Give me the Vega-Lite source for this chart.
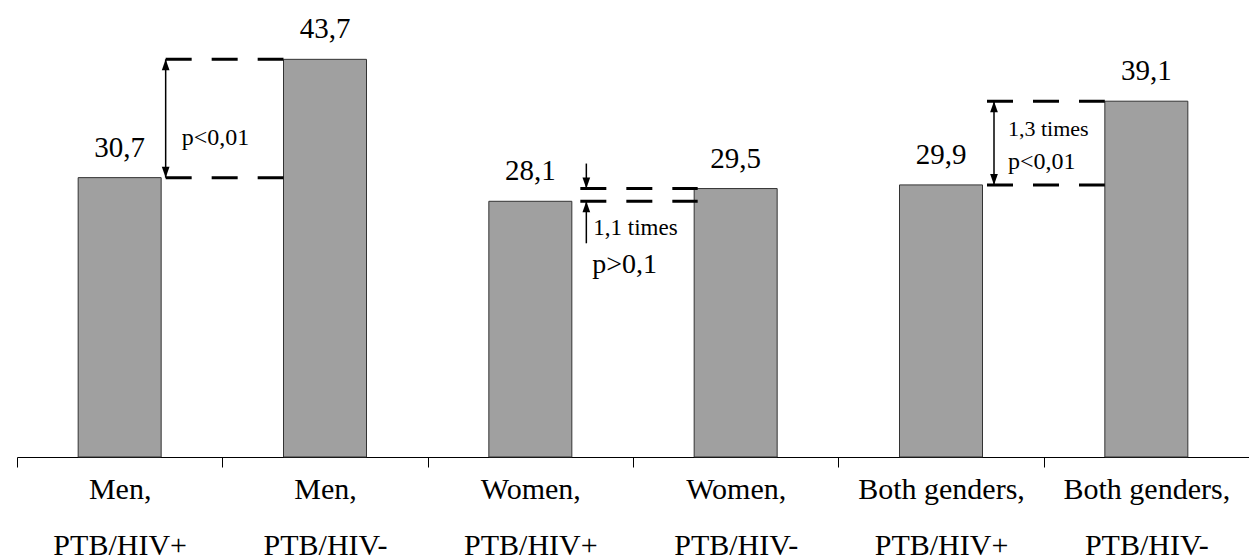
{
  "$schema": "https://vega.github.io/schema/vega-lite/v6.json",
  "width": 1232,
  "height": 455,
  "autosize": {"type": "none"},
  "padding": {"left": 17, "top": 2, "right": 0, "bottom": 103},
  "config": {
    "view": {"stroke": null},
    "locale": {"number": {"decimal": ",", "thousands": " ", "grouping": [3], "currency": ["", ""]}},
    "text": {"font": "Liberation Serif", "color": "black"},
    "axisX": {
      "title": null, "labelAngle": 0, "labelFont": "Liberation Serif", "labelFontSize": 30,
      "labelColor": "black", "labelLineHeight": 56, "labelPadding": 7, "tickBand": "extent",
      "tickSize": 10, "tickColor": "black", "domainColor": "black", "tickWidth": 1, "domainWidth": 1,
      "labelLimit": 400, "labelOverlap": false, "grid": false
    }
  },
  "datasets": {
    "bars": [
      {"category": "Men, PTB/HIV+", "value": 30.7},
      {"category": "Men, PTB/HIV-", "value": 43.7},
      {"category": "Women, PTB/HIV+", "value": 28.1},
      {"category": "Women, PTB/HIV-", "value": 29.5},
      {"category": "Both genders, PTB/HIV+", "value": 29.9},
      {"category": "Both genders, PTB/HIV-", "value": 39.1}
    ],
    "pairs": [
      {"pair": "Men", "from": "Men, PTB/HIV+", "to": "Men, PTB/HIV-", "low": 30.7, "high": 43.7, "ratio": "", "p": "p<0,01"},
      {"pair": "Women", "from": "Women, PTB/HIV+", "to": "Women, PTB/HIV-", "low": 28.1, "high": 29.5, "ratio": "1,1 times", "p": "p>0,1"},
      {"pair": "Both", "from": "Both genders, PTB/HIV+", "to": "Both genders, PTB/HIV-", "low": 29.9, "high": 39.1, "ratio": "1,3 times", "p": "p<0,01"}
    ]
  },
  "layer": [
    {
      "data": {"name": "bars"},
      "mark": {"type": "bar", "width": 83, "fill": "#a0a0a0", "stroke": "#333333", "strokeWidth": 1},
      "encoding": {
        "x": {
          "field": "category", "type": "nominal", "title": null,
          "scale": {"domain": ["Men, PTB/HIV+", "Men, PTB/HIV-", "Women, PTB/HIV+", "Women, PTB/HIV-", "Both genders, PTB/HIV+", "Both genders, PTB/HIV-"], "paddingInner": 0, "paddingOuter": 0},
          "axis": {
            "title": null,
            "labelExpr": "datum.label ? [split(datum.label, ', ')[0] + ',', split(datum.label, ', ')[1]] : ''"
          }
        },
        "y": {"field": "value", "type": "quantitative", "scale": {"domain": [0, 50], "nice": false}, "axis": null}
      }
    },
    {
      "data": {"name": "bars"},
      "mark": {"type": "text", "dy": -21, "baseline": "alphabetic", "fontSize": 29, "font": "Liberation Serif"},
      "encoding": {
        "x": {"field": "category", "type": "nominal", "title": null},
        "y": {"field": "value", "type": "quantitative", "axis": null},
        "text": {"field": "value", "type": "quantitative", "format": ".1f"}
      }
    },
    {
      "data": {"name": "pairs"},
      "transform": [{"filter": "datum.pair !== 'Women'"}, {"fold": ["low", "high"], "as": ["which", "level"]}],
      "mark": {"type": "rule", "strokeDash": [26, 20], "strokeWidth": 3, "stroke": "black", "xOffset": 46, "x2Offset": -41.5},
      "encoding": {
        "x": {"field": "from", "type": "nominal", "title": null},
        "x2": {"field": "to"},
        "y": {"field": "level", "type": "quantitative", "axis": null}
      }
    },
    {
      "data": {"name": "pairs"},
      "transform": [{"filter": "datum.pair === 'Women'"}, {"fold": ["low", "high"], "as": ["which", "level"]}],
      "mark": {"type": "rule", "strokeDash": [26, 20], "strokeWidth": 3, "stroke": "black", "xOffset": 50, "x2Offset": -38},
      "encoding": {
        "x": {"field": "from", "type": "nominal", "title": null},
        "x2": {"field": "to"},
        "y": {"field": "level", "type": "quantitative", "axis": null}
      }
    },
    {
      "data": {"name": "pairs"},
      "transform": [{"filter": "datum.pair === 'Men'"}],
      "mark": {"type": "rule", "xOffset": 46, "strokeWidth": 1.5, "stroke": "black"},
      "encoding": {
        "x": {"field": "from", "type": "nominal", "title": null},
        "y": {"field": "low", "type": "quantitative", "axis": null},
        "y2": {"field": "high"}
      }
    },
    {
      "data": {"name": "pairs"},
      "transform": [{"filter": "datum.pair === 'Men'"}],
      "mark": {"type": "point", "shape": "M0,0L-0.7,2L0.7,2Z", "size": 121, "filled": true, "color": "black", "strokeWidth": 0, "opacity": 1, "xOffset": 46},
      "encoding": {
        "x": {"field": "from", "type": "nominal", "title": null},
        "y": {"field": "high", "type": "quantitative", "axis": null}
      }
    },
    {
      "data": {"name": "pairs"},
      "transform": [{"filter": "datum.pair === 'Men'"}],
      "mark": {"type": "point", "shape": "M0,0L-0.7,-2L0.7,-2Z", "size": 121, "filled": true, "color": "black", "strokeWidth": 0, "opacity": 1, "xOffset": 46},
      "encoding": {
        "x": {"field": "from", "type": "nominal", "title": null},
        "y": {"field": "low", "type": "quantitative", "axis": null}
      }
    },
    {
      "data": {"name": "pairs"},
      "transform": [{"filter": "datum.pair === 'Both'"}],
      "mark": {"type": "rule", "xOffset": 53, "strokeWidth": 1.5, "stroke": "black"},
      "encoding": {
        "x": {"field": "from", "type": "nominal", "title": null},
        "y": {"field": "low", "type": "quantitative", "axis": null},
        "y2": {"field": "high"}
      }
    },
    {
      "data": {"name": "pairs"},
      "transform": [{"filter": "datum.pair === 'Both'"}],
      "mark": {"type": "point", "shape": "M0,0L-0.7,2L0.7,2Z", "size": 121, "filled": true, "color": "black", "strokeWidth": 0, "opacity": 1, "xOffset": 53},
      "encoding": {
        "x": {"field": "from", "type": "nominal", "title": null},
        "y": {"field": "high", "type": "quantitative", "axis": null}
      }
    },
    {
      "data": {"name": "pairs"},
      "transform": [{"filter": "datum.pair === 'Both'"}],
      "mark": {"type": "point", "shape": "M0,0L-0.7,-2L0.7,-2Z", "size": 121, "filled": true, "color": "black", "strokeWidth": 0, "opacity": 1, "xOffset": 53},
      "encoding": {
        "x": {"field": "from", "type": "nominal", "title": null},
        "y": {"field": "low", "type": "quantitative", "axis": null}
      }
    },
    {
      "data": {"name": "pairs"},
      "transform": [{"filter": "datum.pair === 'Women'"}],
      "mark": {"type": "rule", "xOffset": 56, "yOffset": -25, "strokeWidth": 1.5, "stroke": "black"},
      "encoding": {
        "x": {"field": "from", "type": "nominal", "title": null},
        "y": {"field": "high", "type": "quantitative", "axis": null},
        "y2": {"field": "high"}
      }
    },
    {
      "data": {"name": "pairs"},
      "transform": [{"filter": "datum.pair === 'Women'"}],
      "mark": {"type": "point", "shape": "M0,0L-0.7,-2L0.7,-2Z", "size": 121, "filled": true, "color": "black", "strokeWidth": 0, "opacity": 1, "xOffset": 56},
      "encoding": {
        "x": {"field": "from", "type": "nominal", "title": null},
        "y": {"field": "high", "type": "quantitative", "axis": null}
      }
    },
    {
      "data": {"name": "pairs"},
      "transform": [{"filter": "datum.pair === 'Women'"}],
      "mark": {"type": "rule", "xOffset": 56, "y2Offset": 42, "strokeWidth": 1.5, "stroke": "black"},
      "encoding": {
        "x": {"field": "from", "type": "nominal", "title": null},
        "y": {"field": "low", "type": "quantitative", "axis": null},
        "y2": {"field": "low"}
      }
    },
    {
      "data": {"name": "pairs"},
      "transform": [{"filter": "datum.pair === 'Women'"}],
      "mark": {"type": "point", "shape": "M0,0L-0.7,2L0.7,2Z", "size": 121, "filled": true, "color": "black", "strokeWidth": 0, "opacity": 1, "xOffset": 56},
      "encoding": {
        "x": {"field": "from", "type": "nominal", "title": null},
        "y": {"field": "low", "type": "quantitative", "axis": null}
      }
    },
    {
      "data": {"name": "pairs"},
      "transform": [{"filter": "datum.pair === 'Men'"}],
      "mark": {"type": "text", "align": "left", "baseline": "alphabetic", "dx": 62, "dy": -33, "fontSize": 24, "font": "Liberation Serif"},
      "encoding": {
        "x": {"field": "from", "type": "nominal", "title": null},
        "y": {"field": "low", "type": "quantitative", "axis": null},
        "text": {"field": "p"}
      }
    },
    {
      "data": {"name": "pairs"},
      "transform": [{"filter": "datum.pair === 'Women'"}],
      "mark": {"type": "text", "align": "left", "baseline": "alphabetic", "dx": 63, "dy": 34, "fontSize": 23, "font": "Liberation Serif"},
      "encoding": {
        "x": {"field": "from", "type": "nominal", "title": null},
        "y": {"field": "low", "type": "quantitative", "axis": null},
        "text": {"field": "ratio"}
      }
    },
    {
      "data": {"name": "pairs"},
      "transform": [{"filter": "datum.pair === 'Women'"}],
      "mark": {"type": "text", "align": "left", "baseline": "alphabetic", "dx": 62, "dy": 72, "fontSize": 28, "font": "Liberation Serif"},
      "encoding": {
        "x": {"field": "from", "type": "nominal", "title": null},
        "y": {"field": "low", "type": "quantitative", "axis": null},
        "text": {"field": "p"}
      }
    },
    {
      "data": {"name": "pairs"},
      "transform": [{"filter": "datum.pair === 'Both'"}],
      "mark": {"type": "text", "align": "left", "baseline": "alphabetic", "dx": 67, "dy": -49, "fontSize": 22, "font": "Liberation Serif"},
      "encoding": {
        "x": {"field": "from", "type": "nominal", "title": null},
        "y": {"field": "low", "type": "quantitative", "axis": null},
        "text": {"field": "ratio"}
      }
    },
    {
      "data": {"name": "pairs"},
      "transform": [{"filter": "datum.pair === 'Both'"}],
      "mark": {"type": "text", "align": "left", "baseline": "alphabetic", "dx": 67, "dy": -16, "fontSize": 24, "font": "Liberation Serif"},
      "encoding": {
        "x": {"field": "from", "type": "nominal", "title": null},
        "y": {"field": "low", "type": "quantitative", "axis": null},
        "text": {"field": "p"}
      }
    }
  ]
}
